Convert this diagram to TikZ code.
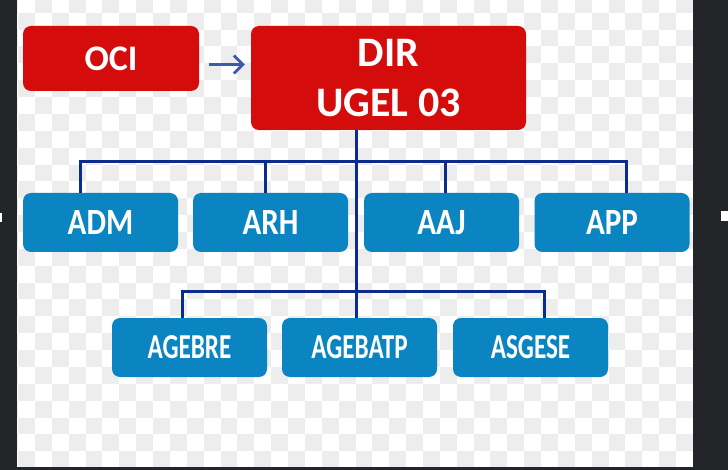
\documentclass[tikz,border=0pt]{standalone}
\usepackage{fontspec}
\setmainfont{Carlito}
\newfontfamily\rowAfont{Carlito}[FakeStretch=0.84]
\newfontfamily\rowBfont{Carlito}[FakeStretch=0.72]
\usetikzlibrary{arrows.meta}
\definecolor{boxred}{HTML}{D40C0C}
\definecolor{boxblue}{HTML}{0B84C2}
\definecolor{linenavy}{HTML}{0B2C8C}
\definecolor{arrblue}{HTML}{3A5DA8}
\definecolor{checkgray}{HTML}{EDEDED}
\definecolor{framedark}{HTML}{242528}
\tikzset{
  orgbox/.style={rectangle, rounded corners=8pt, inner sep=0pt, text=white, draw=none},
  redbox/.style={orgbox, fill=boxred},
  bluebox/.style={orgbox, fill=boxblue, minimum width=155pt, minimum height=59pt},
  rowA/.style={bluebox, font=\rowAfont\bfseries\fontsize{37}{40}\selectfont},
  rowB/.style={bluebox, font=\rowBfont\bfseries\fontsize{35}{40}\selectfont},
  conn/.style={draw=linenavy, line width=3pt},
  arr/.style={draw=arrblue, line width=2.8pt, -{Straight Barb[length=9pt,width=18pt,line width=2.8pt]}}
}
\begin{document}
\begin{tikzpicture}[x=1pt,y=-1pt]
\useasboundingbox (0,0) rectangle (728,470);
\fill[white] (0,0) rectangle (728,470);
% checkerboard background
\begin{scope}
\clip (17,0) rectangle (693,467);
\foreach \i in {-2,...,39}{
  \foreach \j in {0,...,28}{
    \pgfmathtruncatemacro\myparity{mod(\i+\j+100,2)}
    \ifnum\myparity=0
      \fill[checkgray] ({35+16.87*\i},{-4.17+16.87*\j}) rectangle ++(16.87,16.87);
    \fi
  }
}
\end{scope}
% frame strips
\fill[framedark] (0,0) rectangle (17,470);
\fill[framedark] (693,0) rectangle (728,470);
\fill[framedark] (0,467) rectangle (728,470);
\fill[white] (0,213) rectangle (2,222);
\fill[white] (721,211) rectangle (728,221);

% nodes
\node[redbox, minimum width=176pt, minimum height=65pt,
      font=\bfseries\fontsize{36}{40}\selectfont] (oci) at (111,58.5) {OCI};
\node[redbox, minimum width=275pt, minimum height=104pt, align=center,
      font=\bfseries\fontsize{42}{50}\selectfont] (dir) at (388.5,78) {DIR\\UGEL 03};

\node[rowA] (adm) at (100.5,222.5) {ADM};
\node[rowA] (arh) at (270.5,222.5) {ARH};
\node[rowA] (aaj) at (441.5,222.5) {AAJ};
\node[rowA] (app) at (612,222.5) {APP};

\node[rowB] (agebre)  at (189.5,347.5) {AGEBRE};
\node[rowB] (agebatp) at (359.5,347.5) {AGEBATP};
\node[rowB] (asgese)  at (530.5,347.5) {ASGESE};

% junction coordinates
\coordinate (ta) at (80,162);
\coordinate (tb) at (265,162);
\coordinate (tc) at (445,162);
\coordinate (td) at (626,162);
\coordinate (ba) at (182,292);
\coordinate (bb) at (356,292);
\coordinate (bc) at (544,292);
\coordinate (dirfoot) at (356,130);

% connectors
\draw[conn] (dirfoot) -- (dirfoot |- agebatp.north);
\draw[conn] (ta |- adm.north) -- (ta) -- (td) -- (td |- app.north);
\draw[conn] (tb) -- (tb |- arh.north);
\draw[conn] (tc) -- (tc |- aaj.north);
\draw[conn] (ba |- agebre.north) -- (ba) -- (bc) -- (bc |- asgese.north);

% arrow OCI -> DIR
\draw[arr] ([shift={(10,6)}]oci.east) -- ([shift={(-6,6)}]oci.east -| dir.west);
\end{tikzpicture}
\end{document}
